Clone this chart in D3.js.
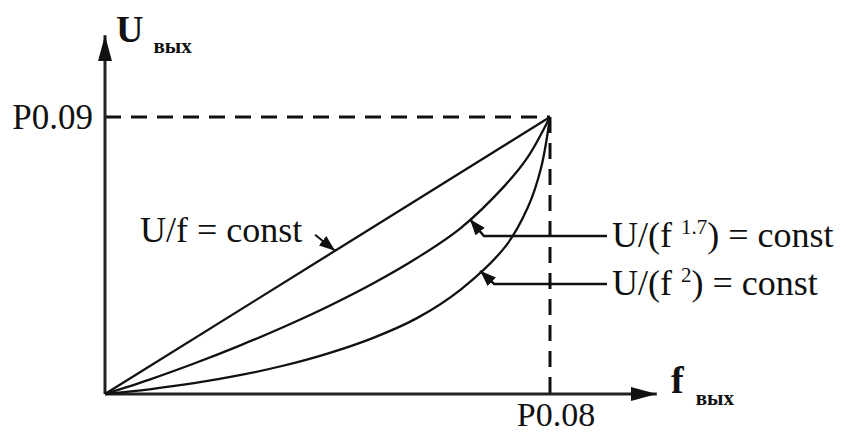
<!DOCTYPE html>
<html>
<head>
<meta charset="utf-8">
<style>
body { margin: 0; background: #fff; }
svg { display: block; }
text { font-family: "Liberation Serif", "Times New Roman", serif; fill: #111; }
</style>
</head>
<body>
<div id="chart"></div>
<script src="https://cdn.jsdelivr.net/npm/d3@7/dist/d3.min.js"></script>
<script>
// normalised frequency (0..1 = 0..P0.08) and voltage (0..1 = 0..P0.09)
var fLin = [0, 1];
var uLin = [0, 1];
var fPow17 = [0, 0.1, 0.2, 0.3, 0.4, 0.5, 0.6, 0.7, 0.8, 0.9, 0.95, 1];
var uPow17 = [0, 0.052, 0.110, 0.173, 0.241, 0.315, 0.397, 0.490, 0.600, 0.755, 0.855, 1];
var fPow2 = [0, 0.1, 0.2, 0.3, 0.4, 0.5, 0.6, 0.7, 0.8, 0.9, 0.95, 0.98, 1];
var uPow2 = [0, 0.017, 0.039, 0.067, 0.102, 0.146, 0.201, 0.273, 0.378, 0.533, 0.673, 0.817, 1];
var xTickLabel = "P0.08";
var yTickLabel = "P0.09";

var W = 846, H = 432;
var svg = d3.select('#chart').append('svg')
    .attr('width', W).attr('height', H);

var x = d3.scaleLinear().domain([0, 1]).range([105, 550]);
var y = d3.scaleLinear().domain([0, 1]).range([394, 117]);

var defs = svg.append('defs');
defs.append('marker')
    .attr('id', 'axisArrow')
    .attr('viewBox', '0 0 26 14')
    .attr('refX', 26).attr('refY', 7)
    .attr('markerUnits', 'userSpaceOnUse')
    .attr('markerWidth', 26).attr('markerHeight', 14)
    .attr('orient', 'auto')
    .append('path').attr('d', 'M0,0 L26,7 L0,14 Z').attr('fill', '#111');
defs.append('marker')
    .attr('id', 'noteArrow')
    .attr('viewBox', '0 0 16 12')
    .attr('refX', 16).attr('refY', 6)
    .attr('markerUnits', 'userSpaceOnUse')
    .attr('markerWidth', 16).attr('markerHeight', 12)
    .attr('orient', 'auto')
    .append('path').attr('d', 'M0,0 L16,6 L0,12 Z').attr('fill', '#111');

// dashed guides to the rated point
svg.append('line')
    .attr('x1', x(0)).attr('y1', y(1)).attr('x2', x(1)).attr('y2', y(1))
    .attr('stroke', '#111').attr('stroke-width', 3).attr('stroke-dasharray', '16,10');
svg.append('line')
    .attr('x1', x(1)).attr('y1', y(1)).attr('x2', x(1)).attr('y2', y(0))
    .attr('stroke', '#111').attr('stroke-width', 3).attr('stroke-dasharray', '16,10');

// axes
svg.append('line')
    .attr('x1', x(0)).attr('y1', y(0)).attr('x2', x(1.24)).attr('y2', y(0))
    .attr('stroke', '#222').attr('stroke-width', 3)
    .attr('marker-end', 'url(#axisArrow)');
svg.append('line')
    .attr('x1', x(0)).attr('y1', y(0)).attr('x2', x(0)).attr('y2', y(1.295))
    .attr('stroke', '#222').attr('stroke-width', 3)
    .attr('marker-end', 'url(#axisArrow)');

// curves
var line = d3.line()
    .x(function (d) { return x(d[0]); })
    .y(function (d) { return y(d[1]); })
    .curve(d3.curveCatmullRom.alpha(0.5));

var series = [
    d3.zip(fLin, uLin),
    d3.zip(fPow17, uPow17),
    d3.zip(fPow2, uPow2)
];
svg.selectAll('path.curve').data(series).enter().append('path')
    .attr('class', 'curve')
    .attr('d', line)
    .attr('fill', 'none')
    .attr('stroke', '#111')
    .attr('stroke-width', 2.3);

function valueAt(fs, us, t) {
    var i = d3.bisectLeft(fs, t);
    if (i <= 0) return us[0];
    var k = (t - fs[i - 1]) / (fs[i] - fs[i - 1]);
    return us[i - 1] + k * (us[i] - us[i - 1]);
}

// tick labels
svg.append('text')
    .attr('x', x(0) - 12).attr('y', y(1) + 12)
    .attr('text-anchor', 'end')
    .attr('font-size', 35)
    .text(yTickLabel);
svg.append('text')
    .attr('x', x(1) + 6).attr('y', 426)
    .attr('text-anchor', 'middle')
    .attr('font-size', 34)
    .text(xTickLabel);

// axis names
var uName = svg.append('text').attr('x', 116).attr('y', 42)
    .attr('font-size', 38).attr('font-weight', 'bold');
uName.append('tspan').text('U');
uName.append('tspan').attr('dx', 10).attr('dy', 11).attr('font-size', 21).text('вых');

var fName = svg.append('text').attr('x', 671).attr('y', 393)
    .attr('font-size', 38).attr('font-weight', 'bold');
fName.append('tspan').text('f');
fName.append('tspan').attr('dx', 12).attr('dy', 12).attr('font-size', 21).text('вых');

// annotations
var t1 = 0.517;
svg.append('line')
    .attr('x1', x(t1) - 20).attr('y1', y(valueAt(fLin, uLin, t1)) - 16)
    .attr('x2', x(t1)).attr('y2', y(valueAt(fLin, uLin, t1)))
    .attr('stroke', '#111').attr('stroke-width', 2)
    .attr('marker-end', 'url(#noteArrow)');
svg.append('text')
    .attr('x', 140).attr('y', 242)
    .attr('font-size', 36)
    .text('U/f = const');

var notes = [
    {t: 0.82, fs: fPow17, us: uPow17, ly: 236, sup: '1.7'},
    {t: 0.843, fs: fPow2, us: uPow2, ly: 284, sup: '2'}
];
notes.forEach(function (n) {
    var tx = x(n.t), ty = y(valueAt(n.fs, n.us, n.t));
    svg.append('polyline')
        .attr('points', [[607, n.ly], [tx + 14, n.ly], [tx, ty]].join(' '))
        .attr('fill', 'none')
        .attr('stroke', '#111').attr('stroke-width', 2.5)
        .attr('marker-end', 'url(#noteArrow)');
    var lbl = svg.append('text')
        .attr('x', 612).attr('y', n.ly + 11)
        .attr('font-size', 36);
    lbl.append('tspan').text('U/(f ');
    lbl.append('tspan').attr('dy', -13).attr('font-size', 21).text(n.sup);
    lbl.append('tspan').attr('dy', 13).text(') = const');
});
</script>
</body>
</html>
